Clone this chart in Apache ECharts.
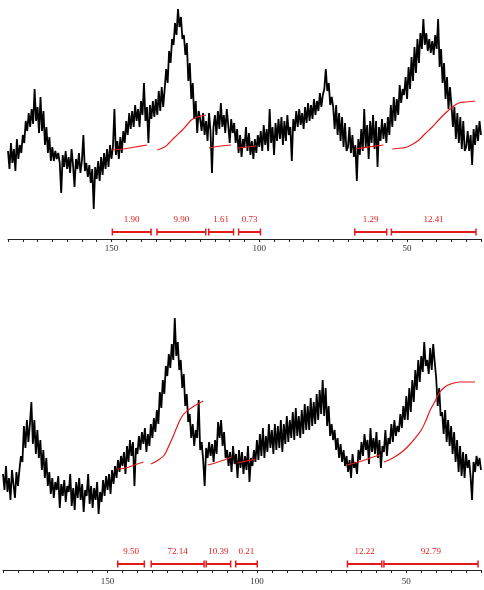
<!DOCTYPE html>
<html>
<head>
<meta charset="utf-8">
<script src="https://cdn.jsdelivr.net/npm/echarts@6/dist/echarts.min.js"></script>
<style>
  html, body { margin: 0; padding: 0; background: #fff; }
  #chart { width: 484px; height: 590px; }
</style>
</head>
<body>
<div id="chart"></div>
<script>
// chemical shift grid (ppm), read from 185 down to 25 in 0.5 ppm steps
var ppmStart = 185;
var ppmStep = 0.5;

// upper spectrum, intensity (arbitrary units)
var topSignal = [
  88,70,96,76,90,68,100,80,94,86,
  104,96,118,108,126,112,130,115,150,118,
  132,106,142,108,128,94,112,86,102,78,
  92,78,88,80,86,76,46,84,72,88,
  70,82,66,90,74,52,80,70,86,66,
  78,104,68,76,62,74,56,70,30,72,
  60,78,58,82,64,86,70,90,72,94,
  80,92,130,84,98,80,102,86,108,96,
  118,104,126,110,128,112,134,118,130,112,
  138,124,156,118,132,96,134,120,138,122,
  140,124,148,128,152,132,150,170,156,188,
  176,200,194,216,204,230,212,222,200,204,
  184,196,158,176,140,156,120,138,106,128,
  120,108,126,104,118,98,126,108,66,112,
  124,104,128,110,136,112,124,106,130,114,
  96,120,106,116,96,110,86,104,82,100,
  92,112,88,106,84,98,80,100,86,104,
  92,108,88,114,94,110,88,130,96,112,
  84,116,98,120,100,122,94,118,98,124,
  104,112,78,120,108,128,112,130,114,126,
  110,132,116,136,118,134,120,140,124,138,
  128,146,132,144,150,170,148,156,134,142,
  132,110,134,104,126,98,122,92,116,88,
  92,112,86,104,82,94,58,100,84,110,
  88,130,92,114,80,118,96,124,90,118,
  72,112,98,120,100,116,96,122,104,134,
  112,142,118,140,124,154,136,150,144,162,
  140,172,150,182,158,192,166,200,176,206,
  190,220,194,206,188,200,186,198,184,204,
  190,220,172,190,156,176,140,162,130,152,
  134,112,132,100,126,96,122,90,118,88,
  92,108,88,104,74,110,94,114,98,118,
  104
];

// lower spectrum, intensity (arbitrary units)
var bottomSignal = [
  96,80,104,78,92,70,100,86,72,98,
  84,100,114,108,144,122,150,128,146,168,
  126,150,116,140,112,130,100,120,92,112,
  84,98,76,92,72,88,80,94,62,86,
  74,90,68,84,78,96,64,82,60,88,
  72,92,70,86,58,80,74,96,66,84,
  62,82,70,88,56,78,68,90,74,94,
  80,96,76,100,86,104,92,110,98,114,
  104,118,96,124,108,130,114,128,84,122,
  116,134,120,138,126,142,118,136,124,146,
  132,152,138,160,146,178,162,190,176,204,
  194,216,202,226,210,252,214,228,200,210,
  182,196,164,176,148,156,132,146,124,140,
  132,170,120,128,110,84,122,112,128,114,
  126,108,130,116,148,132,150,124,138,112,
  120,104,118,98,124,106,116,92,120,102,
  118,96,114,100,124,88,112,104,120,108,
  130,110,136,114,142,112,134,118,146,122,
  140,116,146,120,144,122,150,118,146,126,
  154,128,150,132,158,130,162,134,154,132,
  160,136,166,140,164,140,172,144,168,146,
  176,150,180,156,190,154,182,144,164,134,
  146,130,140,120,132,112,126,108,120,104,
  114,98,110,92,116,102,108,96,120,110,
  128,114,136,120,130,106,142,118,132,116,
  138,112,130,102,124,118,140,114,132,126,
  146,128,150,134,144,138,156,142,164,150,
  174,150,182,158,190,168,200,180,210,188,
  214,198,228,204,210,196,222,200,226,208,
  192,164,182,154,158,136,160,128,150,124,
  144,116,138,108,130,98,124,94,118,92,
  116,102,110,94,70,108,98,114,104,112,
  100
];

// integral traces [ppm, level]
var topIntegrals = [
  [[150,89],[146,90],[142,92],[138,94]],
  [[134.5,89],[132,92],[130.5,96],[128.5,102],[126,109],[124.5,114],[123,119],[121,122],[118,124]],
  [[117,91],[113,93],[109.5,94]],
  [[107.5,91],[104,92],[101,93]],
  [[67.5,90],[63,92],[58,94]],
  [[55,90],[52,91],[50,92],[48,95],[46,99],[44,105],[41.5,112],[39,120],[37,126],[35,131],[32.5,136],[30,137],[27,138]]
];
var bottomIntegrals = [
  [[147,101],[144,102],[141,105],[138,108]],
  [[135.5,106],[133,110],[131,115],[129.5,124],[128,134],[126.5,145],[125,154],[123,160],[121,164],[118,169]],
  [[116.5,105],[114,107],[111,110],[108.5,113]],
  [[106.5,107],[103.5,109],[100.5,111]],
  [[70,105],[66,108],[62,112],[59,115]],
  [[57.5,108],[54.5,112],[51.5,118],[49,125],[47,132],[45,140],[43.5,149],[42,160],[40.5,168],[39,177],[37.5,182],[36,185],[34,187],[32,188],[27,188]]
];

// integration regions (ppm from, ppm to) and their areas
var topRanges = [[149.7,136.6],[134.6,118.1],[117.1,108.7],[107,99.6],[67.7,56.9],[55.3,26.7]];
var topAreas = ['1.90','9.90','1.61','0.73','1.29','12.41'];
var bottomRanges = [[146.6,137.7],[135.4,117.7],[117,108.8],[107.1,99.9],[69.7,58.2],[57.5,26]];
var bottomAreas = ['9.50','72.14','10.39','0.21','12.22','92.79'];

var axisLabelsPpm = [150, 100, 50];

var RED = '#e41a1a';

function toPairs(vals) {
  return vals.map(function (v, i) { return [ppmStart - i * ppmStep, v]; });
}

function xAxisFor(idx) {
  return {
    type: 'value', gridIndex: idx, inverse: true,
    min: 25, max: 185, interval: 5,
    axisLine: { lineStyle: { color: '#222', width: 1 } },
    axisTick: { length: 3, lineStyle: { color: '#222' } },
    splitLine: { show: false },
    axisLabel: {
      margin: idx === 0 ? 5 : 7,
      fontFamily: 'Liberation Serif', fontSize: 9, color: '#333',
      showMinLabel: true, showMaxLabel: true,
      formatter: function (v) { return axisLabelsPpm.indexOf(v) >= 0 ? String(v) : ''; }
    }
  };
}

function bracketSeries(idx, ranges, areas, level, textLevel) {
  return {
    type: 'custom', xAxisIndex: idx, yAxisIndex: idx,
    silent: true,
    data: ranges.map(function (r) { return [r[0], r[1]]; }),
    encode: { x: [0, 1] },
    renderItem: function (params, api) {
      var a = api.coord([api.value(0), level]);
      var b = api.coord([api.value(1), level]);
      var t = api.coord([(api.value(0) + api.value(1)) / 2, textLevel]);
      var st = { stroke: RED, lineWidth: 2 };
      var cap = { stroke: RED, lineWidth: 1.5 };
      return {
        type: 'group',
        children: [
          { type: 'line', shape: { x1: a[0], y1: a[1], x2: b[0], y2: b[1] }, style: st },
          { type: 'line', shape: { x1: a[0], y1: a[1] - 3.5, x2: a[0], y2: a[1] + 3.5 }, style: cap },
          { type: 'line', shape: { x1: b[0], y1: b[1] - 3.5, x2: b[0], y2: b[1] + 3.5 }, style: cap },
          { type: 'text', x: t[0], y: t[1], style: {
              text: areas[params.dataIndex], fill: RED,
              font: '9px "Liberation Serif"', align: 'center', verticalAlign: 'middle' } }
        ]
      };
    }
  };
}

function integralSeries(idx, segs) {
  return segs.map(function (s) {
    return {
      type: 'line', xAxisIndex: idx, yAxisIndex: idx,
      data: s, smooth: 0.4, showSymbol: false, silent: true,
      lineStyle: { color: RED, width: 1.2 }, z: 3
    };
  });
}

var chart = echarts.init(document.getElementById('chart'));
var series = [
  { type: 'line', xAxisIndex: 0, yAxisIndex: 0, data: toPairs(topSignal),
    showSymbol: false, silent: true, lineStyle: { color: '#000', width: 1.8 }, z: 2 },
  { type: 'line', xAxisIndex: 1, yAxisIndex: 1, data: toPairs(bottomSignal),
    showSymbol: false, silent: true, lineStyle: { color: '#000', width: 1.8 }, z: 2 }
]
  .concat(integralSeries(0, topIntegrals))
  .concat(integralSeries(1, bottomIntegrals))
  .concat([bracketSeries(0, topRanges, topAreas, 7, 19),
           bracketSeries(1, bottomRanges, bottomAreas, 6, 18)]);

chart.setOption({
  animation: false,
  backgroundColor: '#fff',
  grid: [
    { left: 8, right: 0, top: 0, height: 239 },
    { left: -1, right: -2, top: 300, height: 270 }
  ],
  xAxis: [xAxisFor(0), xAxisFor(1)],
  yAxis: [
    { type: 'value', gridIndex: 0, min: 0, max: 239, show: false },
    { type: 'value', gridIndex: 1, min: 0, max: 270, show: false }
  ],
  series: series
});
</script>
</body>
</html>
